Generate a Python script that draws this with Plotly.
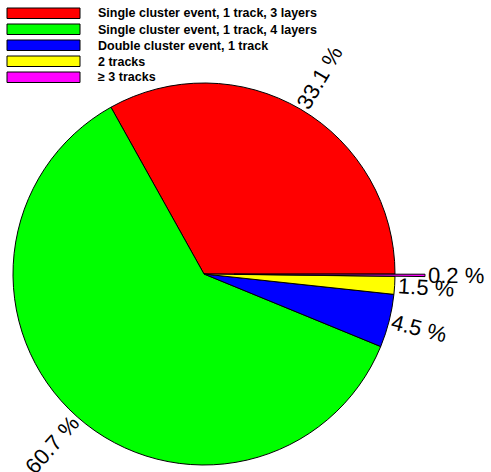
import math
import plotly.graph_objects as go

# Event categories and their share of all events (percent)
categories = [
    "Single cluster event, 1 track, 3 layers",
    "Single cluster event, 1 track, 4 layers",
    "Double cluster event, 1 track",
    "2 tracks",
    "\u2265 3 tracks",
]
shares = [33.1, 60.7, 4.5, 1.5, 0.2]
colors = ["#ff0000", "#00ff00", "#0000ff", "#ffff00", "#ff00ff"]
exploded = [False, False, False, False, True]

W, H = 491, 472
CX, CY, R = 204, 274, 191      # pie centre and radius in pixels
PULL_PX = 30                    # radial offset of the exploded slice
LABEL_SIZE = 22
CLEAR = "rgba(0,0,0,0)"

total = sum(shares)
# Slices run counterclockwise starting at 3 o'clock. Plotly measures rotation
# clockwise from 12 o'clock and, for counterclockwise pies, it marks the
# clockwise edge of the first slice at rotation + its span.
ROTATION = 90 - shares[0] / total * 360


def domain_for(cx, cy, r):
    return dict(x=[(cx - r) / W, (cx + r) / W],
                y=[1 - (cy + r) / H, 1 - (cy - r) / H])


fig = go.Figure()

# Main pie (exploded slice left empty here)
fig.add_trace(go.Pie(
    labels=categories, values=shares, sort=False,
    direction="counterclockwise", rotation=ROTATION,
    marker=dict(colors=[CLEAR if e else c for c, e in zip(colors, exploded)],
                line=dict(color=["black" if not e else CLEAR for e in exploded],
                          width=[0 if e else 1 for e in exploded])),
    textinfo="none", textposition="none", showlegend=False,
    domain=domain_for(CX, CY, R),
))

# Exploded slice, drawn from the same values on a shifted pie
first_exp = exploded.index(True)
start = sum(shares[:first_exp]) / total * 360
mid_exp = math.radians(start + shares[first_exp] / total * 180)
fig.add_trace(go.Pie(
    labels=categories, values=shares, sort=False,
    direction="counterclockwise", rotation=ROTATION,
    marker=dict(colors=[c if e else CLEAR for c, e in zip(colors, exploded)],
                line=dict(color=["black" if e else CLEAR for e in exploded],
                          width=[1 if e else 0 for e in exploded])),
    textinfo="none", textposition="none", showlegend=False,
    domain=domain_for(CX + PULL_PX * math.cos(mid_exp),
                      CY - PULL_PX * math.sin(mid_exp), R),
))

# Percentage labels, written radially just outside each slice
char_w = {".": 0.278, " ": 0.278, "%": 0.889}
annotations = []
angle = 0.0
for v, e in zip(shares, exploded):
    span = v / total * 360
    mid = angle + span / 2
    angle += span
    text = f"{v:.1f} %"
    tw = sum(char_w.get(ch, 0.556) for ch in text) * LABEL_SIZE
    rc = R + (PULL_PX if e else 0) + 3 + tw / 2
    rad = math.radians(mid)
    x = CX + rc * math.cos(rad)
    y = CY - rc * math.sin(rad)
    tilt = mid if math.cos(rad) >= 0 else mid - 180
    if tilt > 180:
        tilt -= 360
    annotations.append(dict(
        x=x / W, y=1 - y / H, xref="paper", yref="paper",
        text=text, showarrow=False, textangle=-tilt,
        xanchor="center", yanchor="middle",
        font=dict(family="Liberation Sans, Arial", size=LABEL_SIZE, color="black"),
    ))

# Legend: coloured boxes with bold captions
shapes = []
for i, (name, c) in enumerate(zip(categories, colors)):
    top = 8 + 16 * i
    shapes.append(dict(type="rect", xref="paper", yref="paper",
                       x0=7 / W, x1=80 / W, y0=1 - (top + 10.5) / H, y1=1 - top / H,
                       fillcolor=c, line=dict(color="black", width=1)))
    annotations.append(dict(
        x=96 / W, y=1 - (top + 5.5) / H, xref="paper", yref="paper",
        text=f"<b>{name}</b>", showarrow=False, xanchor="left", yanchor="middle",
        font=dict(family="Liberation Sans, Arial", size=12.5, color="black"),
    ))

fig.update_layout(
    width=W, height=H, margin=dict(l=0, r=0, t=0, b=0),
    paper_bgcolor="white", plot_bgcolor="white",
    annotations=annotations, shapes=shapes,
)

fig.write_html("out.html")
